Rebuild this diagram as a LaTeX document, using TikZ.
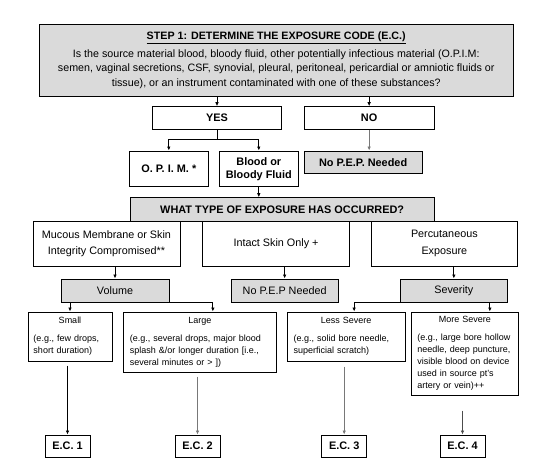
\documentclass[tikz,border=0pt]{standalone}
\usepackage{fontspec}
\setmainfont{Liberation Sans}
\usetikzlibrary{arrows.meta,calc}
\definecolor{boxgray}{RGB}{218,218,218}
\definecolor{arrgray}{RGB}{120,120,120}
\begin{document}
\begin{tikzpicture}[x=1pt,y=-1pt,
  box/.style={draw, line width=1pt, inner sep=0pt, align=center},
  gbox/.style={box, fill=boxgray},
  bf/.style={font=\bfseries\fontsize{10.9}{13}\selectfont},
  rg/.style={font=\fontsize{10.8}{16.5}\selectfont},
  sm/.style={font=\fontsize{9}{12}\selectfont},
  arr/.style={-{Latex[length=4pt,width=3.6pt]}, line width=1pt},
  ln/.style={line width=1pt},
  ecbox/.style={box, bf, minimum width=45pt, minimum height=22pt},
  detail/.style={box, sm, align=left}
]
\useasboundingbox (0,0) rectangle (539,461);
\fill[white] (0,0) rectangle (539,461);

% top question
\node[gbox, minimum width=473.5pt, minimum height=72pt, font=\fontsize{10.7}{14.3}\selectfont] (top) at (276.25,60)
 {\textbf{\underline{STEP 1: DETERMINE THE EXPOSURE CODE (E.C.)}}\\[4pt]
  Is the source material blood, bloody fluid, other potentially infectious material (O.P.I.M:\\
  semen, vaginal secretions, CSF, synovial, pleural, peritoneal, pericardial or amniotic fluids or\\
  tissue), or an instrument contaminated with one of these substances?};

\node[box, bf, minimum width=129.4pt, minimum height=22.6pt] (yes) at (217,118) {YES};
\node[box, bf, minimum width=130.3pt, minimum height=22.6pt] (no) at (369.15,118) {NO};

\node[box, bf, minimum width=79pt, minimum height=35.7pt] (opim) at (168.8,168.85) {O. P. I. M. *};
\node[box, bf, minimum width=79pt, minimum height=35.7pt] (blood) at (258.8,168.85) {Blood or\\Bloody Fluid};
\node[gbox, bf, minimum width=118.3pt, minimum height=22.3pt] (nopep1) at (363.15,162.15) {No P.E.P. Needed};

\node[gbox, bf, minimum width=304.3pt, minimum height=23.3pt] (what) at (282.15,209.35) {WHAT TYPE OF EXPOSURE HAS OCCURRED?};

\node[box, rg, minimum width=147pt, minimum height=45pt] (mucous) at (106.5,243.5) {Mucous Membrane or Skin\\Integrity Compromised**};
\node[box, rg, minimum width=146.6pt, minimum height=45pt] (intact) at (276,243.5) {Intact Skin Only +};
\node[box, rg, minimum width=145.3pt, minimum height=45pt] (perc) at (444.35,243.5) {Percutaneous\\Exposure};

\node[gbox, rg, minimum width=108pt, minimum height=23pt] (volume) at (115,290.5) {Volume};
\node[gbox, rg, minimum width=107.3pt, minimum height=23pt] (nopep2) at (284.65,290.5) {No P.E.P Needed};
\node[gbox, rg, minimum width=106.3pt, minimum height=23pt] (severity) at (453.85,290.5) {Severity};

\node[detail, minimum width=84pt, minimum height=49pt, text width=73pt] (small) at (70,336.5)
 {\centering Small\par\raggedright\vspace{6pt}(e.g., few drops,\\ short duration)};
\node[detail, minimum width=152.3pt, minimum height=60pt, text width=140pt] (large) at (199.85,342)
 {\centering Large\par\raggedright\vspace{6pt}(e.g., several drops, major blood\\ splash \&/or longer duration [i.e.,\\ several minutes or > ])};
\node[detail, minimum width=117.7pt, minimum height=49pt, text width=105pt] (less) at (346.15,336.5)
 {\centering Less Severe\par\raggedright\vspace{6pt}(e.g., solid bore needle,\\ superficial scratch)};
\node[detail, minimum width=106.3pt, minimum height=83pt, text width=95pt] (more) at (464.85,353.5)
 {\centering More Severe\par\raggedright\vspace{6pt}(e.g., large bore hollow\\ needle, deep puncture,\\ visible blood on device\\ used in source pt's\\ artery or vein)++};

\node[ecbox] (ec1) at (67.5,446) {E.C. 1};
\node[ecbox] (ec2) at (197.5,446) {E.C. 2};
\node[ecbox] (ec3) at (344.2,446) {E.C. 3};
\node[ecbox] (ec4) at (462.5,446) {E.C. 4};

% connectors
\draw[arr] (top.south -| yes.north) -- (yes.north);
\draw[arr] (top.south -| no.north) -- (no.north);
\draw[ln] (yes.south) -- ++(0,10) coordinate (fork);
\draw[arr] (fork) -| (opim.north);
\draw[arr] (fork) -| (blood.north);
\draw[arr, arrgray] (no.south) -- (no.south |- nopep1.north);
\draw[arr] (blood.south) -- (blood.south |- what.north);

\draw[arr] (volume.north |- mucous.south) -- (volume.north);
\draw[arr] (nopep2.north |- intact.south) -- (nopep2.north);
\draw[arr] (severity.north |- perc.south) -- (severity.north);

\draw[arr] (small.north |- volume.south) -- (small.north);
\coordinate (lgin) at ($(large.north)+(13,0)$);
\draw[arr] (volume.south east) -| (lgin);
\coordinate (lsin) at ($(less.north)+(8,0)$);
\draw[arr] (severity.south west) -| (lsin);
\coordinate (mrin) at ($(more.north)+(25,0)$);
\draw[arr] (mrin |- severity.south) -- (mrin);

\draw[arr] ($(small.south -| ec1.north)+(0,4)$) -- (ec1.north);
\draw[arr, arrgray] ($(large.south -| ec2.north)+(0,4)$) -- (ec2.north);
\draw[arr, arrgray] ($(less.south -| ec3.north)+(0,5)$) -- (ec3.north);
\draw[arr, black!70] ($(more.south -| ec4.north)+(0,15)$) -- (ec4.north);
\end{tikzpicture}
\end{document}
